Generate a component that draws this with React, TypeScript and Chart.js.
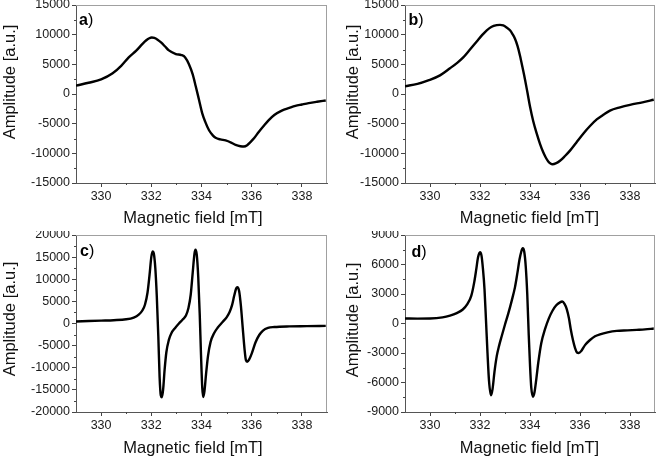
import React, { useEffect, useRef } from 'react';
import { Chart, registerables } from 'chart.js';

Chart.register(...registerables);

// ---------- data ----------
const FIELD_A = [329.0, 329.5, 330.0, 330.46, 330.8, 331.1, 331.4, 331.65, 331.8, 331.92, 332.02, 332.12, 332.25, 332.4, 332.55, 332.7, 332.98, 333.2, 333.35, 333.5, 333.65, 333.77, 333.9, 334.03, 334.15, 334.3, 334.45, 334.56, 334.75, 334.96, 335.2, 335.36, 335.55, 335.69, 335.82, 335.95, 336.1, 336.28, 336.5, 336.68, 336.9, 337.2, 337.5, 337.74, 338.0, 338.27, 338.6, 338.95];
const AMP_A = [1400, 1890, 2460, 3490, 4740, 6170, 7310, 8450, 9050, 9400, 9520, 9450, 9150, 8650, 8000, 7350, 6740, 6570, 6170, 5030, 3310, 1310, -970, -3260, -4690, -6110, -6970, -7370, -7660, -7830, -8230, -8570, -8800, -8860, -8630, -8110, -7430, -6400, -5260, -4400, -3540, -2800, -2340, -2000, -1770, -1540, -1310, -1090];

const FIELD_B = [329.0, 329.5, 329.93, 330.4, 330.8, 331.1, 331.33, 331.6, 331.87, 332.1, 332.27, 332.45, 332.67, 332.8, 332.93, 333.05, 333.2, 333.3, 333.4, 333.5, 333.6, 333.7, 333.8, 333.9, 334.0, 334.13, 334.27, 334.4, 334.53, 334.63, 334.73, 334.82, 334.9, 335.05, 335.2, 335.4, 335.6, 335.85, 336.13, 336.4, 336.67, 336.95, 337.2, 337.6, 338.0, 338.5, 338.95];
const AMP_B = [1300, 1700, 2290, 3140, 4340, 5300, 6170, 7500, 8860, 10000, 10740, 11300, 11600, 11650, 11550, 11250, 10740, 10100, 9310, 8100, 6460, 4500, 2460, 200, -2110, -4600, -6690, -8400, -9830, -10700, -11370, -11700, -11830, -11650, -11260, -10450, -9540, -8200, -6690, -5400, -4290, -3450, -2800, -2250, -1830, -1400, -970];

const FIELD_C = [329.0, 329.5, 330.0, 330.5, 331.0, 331.3, 331.5, 331.65, 331.75, 331.85, 331.93, 332.0, 332.05, 332.1, 332.16, 332.22, 332.28, 332.33, 332.38, 332.42, 332.47, 332.53, 332.6, 332.7, 332.8, 332.95, 333.1, 333.25, 333.38, 333.48, 333.57, 333.65, 333.72, 333.76, 333.81, 333.87, 333.93, 333.98, 334.03, 334.07, 334.12, 334.18, 334.26, 334.36, 334.5, 334.65, 334.85, 335.0, 335.12, 335.22, 335.3, 335.38, 335.43, 335.5, 335.57, 335.64, 335.71, 335.77, 335.82, 335.9, 336.0, 336.15, 336.3, 336.45, 336.65, 336.9, 337.5, 338.2, 338.95];
const AMP_C = [450, 550, 650, 750, 950, 1350, 2000, 3000, 4300, 7000, 11000, 15000, 16300, 15800, 12500, 6000, -3000, -12000, -16300, -16700, -15000, -10500, -6500, -3700, -2200, -1000, 0, 900, 1800, 3500, 6500, 11500, 15800, 16700, 15600, 10500, 2000, -7000, -14500, -16600, -15200, -11500, -7300, -4200, -2200, -900, 400, 1400, 2600, 4200, 6200, 7900, 8200, 7300, 4000, -800, -5500, -8300, -8650, -8100, -6800, -4300, -2600, -1600, -1000, -800, -650, -600, -530];

const FIELD_D = [329.0, 329.5, 330.0, 330.5, 330.8, 331.07, 331.3, 331.5, 331.65, 331.77, 331.85, 331.92, 332.0, 332.06, 332.12, 332.18, 332.24, 332.3, 332.36, 332.44, 332.5, 332.58, 332.67, 332.77, 332.87, 333.0, 333.13, 333.27, 333.4, 333.5, 333.58, 333.65, 333.71, 333.77, 333.83, 333.89, 333.95, 334.0, 334.05, 334.12, 334.18, 334.25, 334.33, 334.45, 334.6, 334.75, 334.9, 335.05, 335.2, 335.29, 335.38, 335.47, 335.56, 335.63, 335.72, 335.8, 335.88, 335.95, 336.05, 336.2, 336.4, 336.6, 336.8, 337.1, 337.47, 337.9, 338.27, 338.6, 338.95];
const AMP_D = [510, 500, 510, 620, 800, 1060, 1400, 2000, 2800, 4210, 5500, 6700, 7250, 6900, 5500, 3500, 300, -3000, -5800, -7300, -6700, -4900, -3320, -2200, -1270, -100, 1000, 2330, 3700, 5200, 6500, 7300, 7650, 7300, 5800, 3000, -1200, -4200, -6500, -7450, -7000, -5700, -4000, -2000, -580, 500, 1300, 1850, 2150, 2230, 2000, 1470, 500, -580, -1700, -2470, -2950, -3000, -2800, -2200, -1680, -1300, -1100, -900, -750, -700, -650, -600, -510];

const X_MIN = 329;
const X_MAX = 339;
const X_TICKS = [330, 332, 334, 336, 338];
const X_MINOR = [331, 333, 335, 337];

const Y_TICKS_AB = [-15000, -10000, -5000, 0, 5000, 10000, 15000];
const Y_MINOR_AB = [-12500, -7500, -2500, 2500, 7500, 12500];
const Y_TICKS_C = [-20000, -15000, -10000, -5000, 0, 5000, 10000, 15000, 20000];
const Y_MINOR_C = [-17500, -12500, -7500, -2500, 2500, 7500, 12500, 17500];
const Y_TICKS_D = [-9000, -6000, -3000, 0, 3000, 6000, 9000];
const Y_MINOR_D = [-7500, -4500, -1500, 1500, 4500, 7500];

const PANEL_LABELS = ['a', 'b', 'c', 'd'];
const X_TITLE = 'Magnetic field [mT]';
const Y_TITLE = 'Amplitude [a.u.]';

const FONT = '"Liberation Sans", Arial, Helvetica, sans-serif';

type PanelProps = {
  field: number[];
  amp: number[];
  yTicks: number[];
  yMinor: number[];
  left: number;
  top: number;
  width: number;
  height: number;
  axisW: number;
  axisH: number;
  padTop: number;
  padRight: number;
};

const frame = {
  id: 'frame',
  afterDraw(chart: any) {
    const { ctx, chartArea, scales } = chart;
    const { left, right, top, bottom } = chartArea;
    ctx.save();
    ctx.lineWidth = 1;
    ctx.strokeStyle = '#a0a0a0';
    ctx.beginPath();
    ctx.moveTo(left, top + 0.5);
    ctx.lineTo(right, top + 0.5);
    ctx.moveTo(right - 0.5, top);
    ctx.lineTo(right - 0.5, bottom);
    ctx.stroke();
    // minor ticks
    const minorX: number[] = chart.options.plugins.frame.minorX || [];
    const minorY: number[] = chart.options.plugins.frame.minorY || [];
    ctx.strokeStyle = '#444';
    ctx.beginPath();
    minorX.forEach((v) => {
      const px = Math.round(scales.x.getPixelForValue(v)) + 0.5;
      ctx.moveTo(px, bottom);
      ctx.lineTo(px, bottom + 2);
    });
    minorY.forEach((v) => {
      const py = Math.round(scales.y.getPixelForValue(v)) + 0.5;
      ctx.moveTo(left, py);
      ctx.lineTo(left - 2, py);
    });
    ctx.stroke();
    ctx.restore();
  },
};

function Panel(p: PanelProps) {
  const ref = useRef<HTMLCanvasElement>(null);
  useEffect(() => {
    if (!ref.current) return;
    const points = p.field.map((x, i) => ({ x, y: p.amp[i] }));
    const yMin = p.yTicks[0];
    const yMax = p.yTicks[p.yTicks.length - 1];
    const chart = new Chart(ref.current, {
      type: 'line',
      data: {
        datasets: [
          {
            data: points,
            borderColor: '#000',
            borderWidth: 2.4,
            pointRadius: 0,
            cubicInterpolationMode: 'monotone',
            fill: false,
          },
        ],
      },
      options: {
        animation: false,
        responsive: false,
        layout: { padding: { top: p.padTop, right: p.padRight, left: 0, bottom: 0 } },
        plugins: {
          legend: { display: false },
          tooltip: { enabled: false },
          frame: { minorX: X_MINOR, minorY: p.yMinor },
        } as any,
        scales: {
          x: {
            type: 'linear',
            min: X_MIN,
            max: X_MAX,
            afterBuildTicks: (s: any) => {
              s.ticks = X_TICKS.map((v) => ({ value: v }));
            },
            afterFit: (s: any) => {
              s.height = p.axisH;
              s.paddingLeft = 0;
              s.paddingRight = 0;
            },
            grid: {
              drawOnChartArea: false,
              drawTicks: true,
              tickLength: 4,
              tickColor: '#444',
            },
            border: { color: '#555', width: 1 },
            ticks: {
              maxRotation: 0,
              autoSkip: false,
              padding: 2,
              color: '#1a1a1a',
              font: { family: FONT, size: 12.5 },
              callback: (v: any) => String(v),
            },
          },
          y: {
            type: 'linear',
            min: yMin,
            max: yMax,
            afterBuildTicks: (s: any) => {
              s.ticks = p.yTicks.map((v) => ({ value: v }));
            },
            afterFit: (s: any) => {
              s.width = p.axisW;
              s.paddingTop = 0;
              s.paddingBottom = 0;
            },
            grid: {
              drawOnChartArea: false,
              drawTicks: true,
              tickLength: 4,
              tickColor: '#444',
            },
            border: { color: '#555', width: 1 },
            ticks: {
              autoSkip: false,
              padding: 2,
              color: '#1a1a1a',
              font: { family: FONT, size: 12.5 },
              callback: (v: any) => String(v),
            },
          },
        },
      },
      plugins: [frame],
    });
    return () => chart.destroy();
  }, []);
  return (
    <canvas
      ref={ref}
      width={p.width}
      height={p.height}
      style={{ position: 'absolute', left: p.left, top: p.top, width: p.width, height: p.height, display: 'block' }}
    />
  );
}

const titleStyle: React.CSSProperties = {
  position: 'absolute',
  fontFamily: FONT,
  fontSize: 16.5,
  lineHeight: '16.5px',
  whiteSpace: 'nowrap',
  color: '#111',
};

function XTitle({ cx, top }: { cx: number; top: number }) {
  return <div style={{ ...titleStyle, left: cx, top, transform: 'translateX(-50%)' }}>{X_TITLE}</div>;
}

function YTitle({ cx, cy }: { cx: number; cy: number }) {
  return (
    <div style={{ ...titleStyle, left: cx, top: cy, transform: 'translate(-50%, -50%) rotate(-90deg)' }}>{Y_TITLE}</div>
  );
}

function Label({ text, left, baseline }: { text: string; left: number; baseline: number }) {
  return (
    <div
      style={{
        position: 'absolute',
        left,
        top: baseline - 13.5,
        fontFamily: FONT,
        fontSize: 16,
        lineHeight: '16px',
        color: '#000',
        whiteSpace: 'nowrap',
      }}
    >
      <b>{text}</b>)
    </div>
  );
}

export default function App() {
  return (
    <div style={{ position: 'fixed', left: 0, top: 0, width: 656, height: 463, background: '#fff', overflow: 'hidden' }}>
      <Panel field={FIELD_A} amp={AMP_A} yTicks={Y_TICKS_AB} yMinor={Y_MINOR_AB} left={0} top={0} width={328} height={231} axisW={76} axisH={48} padTop={5} padRight={1} />
      <Panel field={FIELD_B} amp={AMP_B} yTicks={Y_TICKS_AB} yMinor={Y_MINOR_AB} left={328} top={0} width={328} height={231} axisW={77} axisH={48} padTop={5} padRight={1} />
      <Panel field={FIELD_C} amp={AMP_C} yTicks={Y_TICKS_C} yMinor={Y_MINOR_C} left={0} top={231} width={328} height={232} axisW={76} axisH={51} padTop={4} padRight={1} />
      <Panel field={FIELD_D} amp={AMP_D} yTicks={Y_TICKS_D} yMinor={Y_MINOR_D} left={328} top={231} width={328} height={232} axisW={77} axisH={51} padTop={4} padRight={1} />

      <XTitle cx={193} top={209} />
      <XTitle cx={529.5} top={209} />
      <XTitle cx={193} top={439} />
      <XTitle cx={529.5} top={439} />

      <YTitle cx={8.8} cy={81.5} />
      <YTitle cx={352.3} cy={81.5} />
      <YTitle cx={8.8} cy={319} />
      <YTitle cx={352.3} cy={320} />

      <Label text={PANEL_LABELS[0]} left={79} baseline={25} />
      <Label text={PANEL_LABELS[1]} left={408.5} baseline={25} />
      <Label text={PANEL_LABELS[2]} left={80} baseline={256.5} />
      <Label text={PANEL_LABELS[3]} left={411.5} baseline={257} />
    </div>
  );
}
